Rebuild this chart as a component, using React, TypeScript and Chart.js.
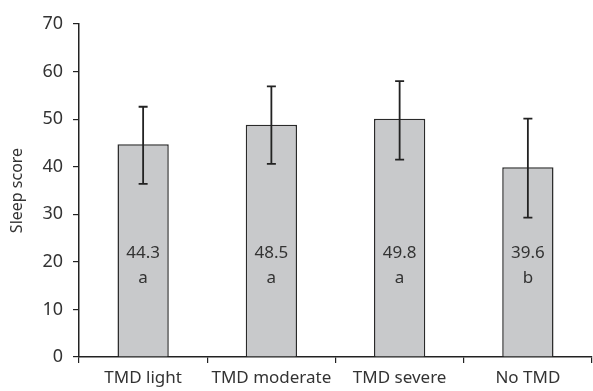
import React, { useEffect, useRef } from "react";
import { Chart, registerables } from "chart.js";

Chart.register(...registerables);

const categories = ["TMD light", "TMD moderate", "TMD severe", "No TMD"];
const barValues = [44.7, 48.8, 50.1, 39.9];
const errorUpper = [52.6, 56.9, 58.0, 50.1];
const errorLower = [36.4, 40.6, 41.5, 29.3];
const valueLabels = ["44.3", "48.5", "49.8", "39.6"];
const groupLabels = ["a", "a", "a", "b"];
const yTicks = [0, 10, 20, 30, 40, 50, 60, 70];

const FONT = "'Noto Sans', 'DejaVu Sans', sans-serif";

const annotate = {
  id: "annotate",
  afterDatasetsDraw(chart: any) {
    const ctx = chart.ctx;
    const y = chart.scales.y;
    const meta = chart.getDatasetMeta(0);
    ctx.save();
    meta.data.forEach((bar: any, i: number) => {
      const x = bar.x;
      const yTop = y.getPixelForValue(errorUpper[i]);
      const yBot = y.getPixelForValue(errorLower[i]);
      ctx.strokeStyle = "#222";
      ctx.lineWidth = 1.8;
      ctx.beginPath();
      ctx.moveTo(x, yTop);
      ctx.lineTo(x, yBot);
      ctx.moveTo(x - 4.5, yTop);
      ctx.lineTo(x + 4.5, yTop);
      ctx.moveTo(x - 4.5, yBot);
      ctx.lineTo(x + 4.5, yBot);
      ctx.stroke();
      ctx.fillStyle = "#333";
      ctx.textAlign = "center";
      ctx.textBaseline = "middle";
      ctx.font = `17px ${FONT}`;
      ctx.fillText(valueLabels[i], x, y.getPixelForValue(21.9));
      ctx.fillText(groupLabels[i], x, y.getPixelForValue(16.6));
    });
    ctx.restore();
  },
};

export default function App() {
  const ref = useRef<HTMLCanvasElement>(null);
  useEffect(() => {
    document.body.style.margin = "0";
    const chart = new Chart(ref.current!, {
      type: "bar",
      data: {
        labels: categories,
        datasets: [
          {
            data: barValues,
            backgroundColor: "#c8c9cb",
            borderColor: "#2a2a2a",
            borderWidth: 1.5,
            categoryPercentage: 0.8,
            barPercentage: 0.5,
          },
        ],
      },
      options: {
        animation: false,
        responsive: false,
        maintainAspectRatio: false,
        layout: { padding: { top: 24, right: 1, left: 0, bottom: 0 } },
        plugins: { legend: { display: false }, tooltip: { enabled: false } },
        scales: {
          x: {
            grid: {
              offset: true,
              drawOnChartArea: false,
              drawTicks: true,
              tickLength: 6,
              color: "#222",
              lineWidth: 1.2,
            },
            border: { color: "#222", width: 1.5 },
            ticks: {
              color: "#333",
              font: { family: FONT, size: 17 },
              padding: 5,
              maxRotation: 0,
              autoSkip: false,
            },
            afterFit: (s: any) => {
              s.height = 34;
            },
          },
          y: {
            min: 0,
            max: 70,
            afterBuildTicks: (s: any) => {
              s.ticks = yTicks.map((v) => ({ value: v }));
            },
            grid: {
              drawOnChartArea: false,
              drawTicks: true,
              tickLength: 6,
              color: "#222",
              lineWidth: 1.2,
            },
            border: { color: "#222", width: 1.5 },
            ticks: {
              color: "#333",
              font: { family: FONT, size: 18 },
              padding: 10,
            },
            title: {
              display: true,
              text: "Sleep score",
              color: "#333",
              font: { family: FONT, size: 16 },
              padding: { top: 8, bottom: 4 },
            },
            afterFit: (s: any) => {
              s.width = 79;
            },
          },
        },
      },
      plugins: [annotate],
    });
    return () => chart.destroy();
  }, []);
  return (
    <div style={{ width: 593, height: 391 }}>
      <canvas ref={ref} width={593} height={391} style={{ display: "block" }} />
    </div>
  );
}
